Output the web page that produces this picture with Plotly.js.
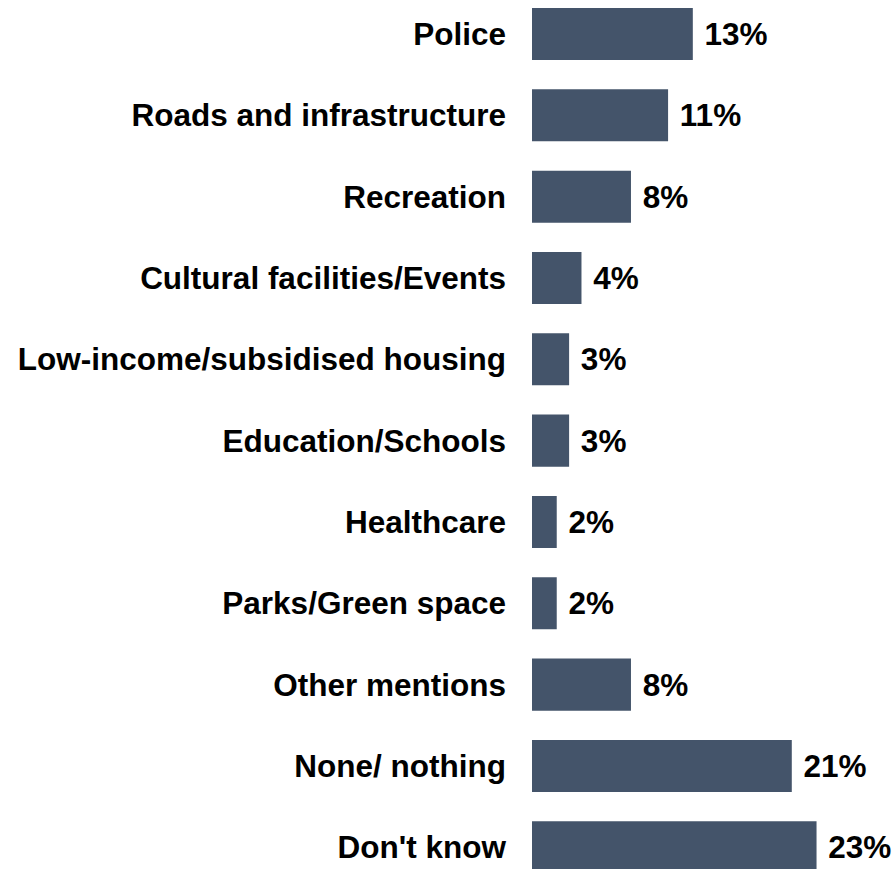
<!DOCTYPE html>
<html><head><meta charset="utf-8">
<script src="https://cdn.plot.ly/plotly-3.0.1.min.js"></script>
<style>html,body{margin:0;padding:0;background:#fff}</style>
</head><body><div id="chart" style="width:892px;height:869px"></div>
<script>
const categories = ["Police","Roads and infrastructure","Recreation","Cultural facilities/Events","Low-income/subsidised housing","Education/Schools","Healthcare","Parks/Green space","Other mentions","None/ nothing","Don't know"];
const values = [13,11,8,4,3,3,2,2,8,21,23];
const valueLabels = values.map(v => "\u00a0" + v + "%");

const font = {family:"Liberation Sans, Arial, sans-serif", size:31.5, color:"#000", weight:"bold"};
Plotly.newPlot("chart", [{
  type:"bar", orientation:"h",
  y: categories, x: values,
  text: valueLabels, textposition:"outside", cliponaxis:false,
  textfont: font,
  marker:{color:"#44546A"},
  width:0.64,
  hoverinfo:"none"
}], {
  width:892, height:869,
  margin:{l:532, r:0, t:0, b:0},
  paper_bgcolor:"#fff", plot_bgcolor:"#fff",
  showlegend:false,
  bargap:0.36,
  xaxis:{range:[0,29.1], visible:false, fixedrange:true},
  yaxis:{type:"category", categoryorder:"array", categoryarray:categories,
         range:[10.267,-0.418], showgrid:false, zeroline:false, showline:false,
         ticks:"", tickfont:font, ticklabelstandoff:25, fixedrange:true}
}, {displayModeBar:false, staticPlot:true});
</script></body></html>
